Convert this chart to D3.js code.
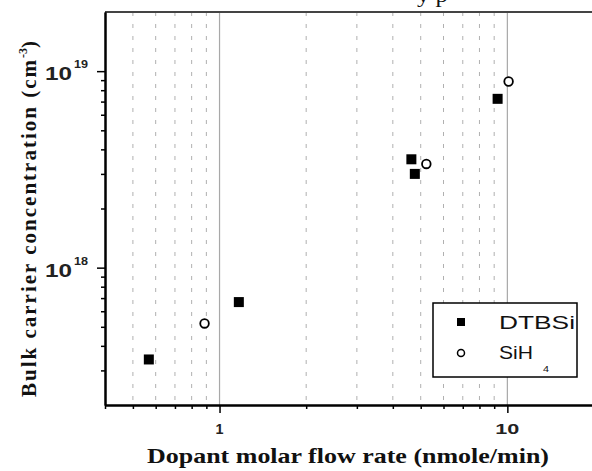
<!DOCTYPE html>
<html>
<head>
<meta charset="utf-8">
<script src="https://cdn.jsdelivr.net/npm/d3@7"></script>
<style>
  body { margin: 0; background: #fff; }
  svg { display: block; }
</style>
</head>
<body>
<div id="chart"></div>
<script>
// data
var dtbsiFlow = [0.568, 1.167, 4.64, 4.77, 9.25];
var dtbsiConc = [3.41e17, 6.68e17, 3.56e18, 3.0e18, 7.23e18];
var sih4Flow = [0.887, 5.23, 10.1];
var sih4Conc = [5.2e17, 3.37e18, 8.86e18];

var xMajor = [1, 10];
var xMajorLabels = ["1", "10"];
var xMinor = [0.4, 0.5, 0.6, 0.7, 0.8, 0.9, 2, 3, 4, 5, 6, 7, 8, 9, 20];
var yMajor = [1e18, 1e19];
var yMajorExp = ["18", "19"];
var yMinor = [3e17, 4e17, 5e17, 6e17, 7e17, 8e17, 9e17, 2e18, 3e18, 4e18, 5e18, 6e18, 7e18, 8e18, 9e18];

var W = 592, H = 471;
var margin = { top: 12, left: 105 },
    width = 489,
    height = 393;

var sans = "'Liberation Sans', Arial, sans-serif";
var serif = "'Liberation Serif', 'Times New Roman', serif";

var svg = d3.select("#chart").append("svg")
    .attr("width", W)
    .attr("height", H)
    .style("background-color", "#fff");

function stretch(sel, len) {
    return sel.attr("textLength", len).attr("lengthAdjust", "spacingAndGlyphs");
}

var x = d3.scaleLog().domain([0.4, 20]).range([0, width]);
var y = d3.scaleLog().domain([2e17, 2e19]).range([height, 0]);

var g = svg.append("g")
    .attr("transform", "translate(" + margin.left + "," + margin.top + ")");

// vertical grid: dashed at minor values, solid at decades
g.append("g").selectAll("line")
    .data(xMinor.filter(function (d) { return d > 0.4 && d < 20; }))
    .enter().append("line")
    .attr("x1", function (d) { return x(d); })
    .attr("x2", function (d) { return x(d); })
    .attr("y1", 0).attr("y2", height)
    .attr("stroke", "#b0b0b0")
    .attr("stroke-width", 1)
    .attr("stroke-dasharray", "4,8");

g.append("g").selectAll("line")
    .data(xMajor)
    .enter().append("line")
    .attr("x1", function (d) { return x(d); })
    .attr("x2", function (d) { return x(d); })
    .attr("y1", 0).attr("y2", height)
    .attr("stroke", "#a8a8a8")
    .attr("stroke-width", 1.2);

// top frame line
g.append("line")
    .attr("x1", 0).attr("x2", width)
    .attr("y1", 0).attr("y2", 0)
    .attr("stroke", "#444")
    .attr("stroke-width", 2);

// x axis (minor + major ticks)
g.append("g")
    .attr("transform", "translate(0," + height + ")")
    .call(d3.axisBottom(x).tickValues(xMinor).tickSize(4).tickSizeOuter(0).tickFormat(function () { return ""; }));
g.append("g")
    .attr("transform", "translate(0," + height + ")")
    .call(d3.axisBottom(x).tickValues(xMajor).tickSize(8).tickSizeOuter(0).tickFormat(function () { return ""; }));

// y axis
g.append("g")
    .call(d3.axisLeft(y).tickValues(yMinor).tickSize(4).tickSizeOuter(0).tickFormat(function () { return ""; }));
g.append("g")
    .call(d3.axisLeft(y).tickValues(yMajor).tickSize(8).tickSizeOuter(0).tickFormat(function () { return ""; }));

g.selectAll(".domain").attr("stroke", "#000").attr("stroke-width", 2);
g.selectAll(".tick line").attr("stroke", "#000").attr("stroke-width", 1.5);

// x tick labels
g.append("g").selectAll("text")
    .data(xMajor)
    .enter().append("text")
    .attr("x", function (d) { return x(d); })
    .attr("y", height + 29)
    .attr("text-anchor", "middle")
    .attr("font-family", sans)
    .attr("font-weight", "bold")
    .attr("font-size", "15px")
    .attr("fill", "#222")
    .attr("textLength", function (d, i) { return i === 0 ? 8 : 24; })
    .attr("lengthAdjust", "spacingAndGlyphs")
    .text(function (d, i) { return xMajorLabels[i]; });

// y tick labels: 10 with a raised exponent
stretch(g.append("g").selectAll("text")
    .data(yMajor)
    .enter().append("text")
    .attr("x", -60)
    .attr("y", function (d) { return y(d) + 9; })
    .attr("font-family", sans)
    .attr("font-weight", "bold")
    .attr("font-size", "18px")
    .attr("fill", "#222")
    .text("10"), 27);

stretch(g.append("g").selectAll("text")
    .data(yMajor)
    .enter().append("text")
    .attr("x", -31)
    .attr("y", function (d) { return y(d) - 3; })
    .attr("font-family", sans)
    .attr("font-weight", "bold")
    .attr("font-size", "10px")
    .attr("fill", "#222")
    .text(function (d, i) { return yMajorExp[i]; }), 14);

// data points
g.append("g").selectAll("rect")
    .data(dtbsiFlow)
    .enter().append("rect")
    .attr("x", function (d) { return x(d) - 5; })
    .attr("y", function (d, i) { return y(dtbsiConc[i]) - 5; })
    .attr("width", 10)
    .attr("height", 10)
    .attr("fill", "#000");

g.append("g").selectAll("circle")
    .data(sih4Flow)
    .enter().append("circle")
    .attr("cx", function (d) { return x(d); })
    .attr("cy", function (d, i) { return y(sih4Conc[i]); })
    .attr("r", 4.3)
    .attr("fill", "#fff")
    .attr("stroke", "#000")
    .attr("stroke-width", 1.8);

// legend
var leg = svg.append("g");
leg.append("rect")
    .attr("x", 433).attr("y", 303)
    .attr("width", 144).attr("height", 74)
    .attr("fill", "#fff")
    .attr("stroke", "#000")
    .attr("stroke-width", 1.5);
leg.append("rect")
    .attr("x", 457).attr("y", 318)
    .attr("width", 8).attr("height", 8)
    .attr("fill", "#000");
leg.append("circle")
    .attr("cx", 461).attr("cy", 353)
    .attr("r", 3.5)
    .attr("fill", "#fff")
    .attr("stroke", "#000")
    .attr("stroke-width", 1.5);
stretch(leg.append("text")
    .attr("x", 499).attr("y", 329)
    .attr("font-family", sans)
    .attr("font-size", "19px")
    .attr("fill", "#111")
    .text("DTBSi"), 76);
stretch(leg.append("text")
    .attr("x", 499).attr("y", 359)
    .attr("font-family", sans)
    .attr("font-size", "19px")
    .attr("fill", "#111")
    .text("SiH"), 34);
stretch(leg.append("text")
    .attr("x", 543).attr("y", 372)
    .attr("font-family", sans)
    .attr("font-size", "9px")
    .attr("fill", "#111")
    .text("4"), 6);

// axis titles
stretch(svg.append("text")
    .attr("x", 348).attr("y", 463)
    .attr("text-anchor", "middle")
    .attr("font-family", serif)
    .attr("font-weight", "bold")
    .attr("font-size", "21px")
    .attr("fill", "#111")
    .text("Dopant molar flow rate (nmole/min)"), 402);

var yt = svg.append("text")
    .attr("transform", "translate(36,397) rotate(-90)")
    .attr("text-anchor", "start")
    .attr("font-family", serif)
    .attr("font-weight", "bold")
    .attr("font-size", "21px")
    .attr("fill", "#111");
yt.append("tspan").attr("letter-spacing", "2px").text("Bulk carrier concentration (cm");
yt.append("tspan").attr("dy", -9).attr("font-size", "12px").text("-3");
yt.append("tspan").attr("dy", 9).text(")");

// cut-off title at the very top of the frame
stretch(svg.append("text")
    .attr("x", 417).attr("y", 2)
    .attr("font-family", serif)
    .attr("font-size", "22px")
    .attr("fill", "#111")
    .text("y p"), 31);
</script>
</body>
</html>
